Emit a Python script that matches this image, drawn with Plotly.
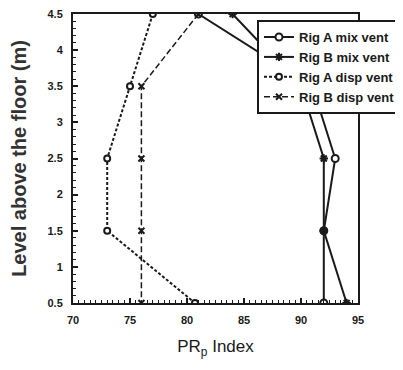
import plotly.graph_objects as go

heights = [4.5, 3.5, 2.5, 1.5, 0.5]
rig_a_mix = [81, 91, 93, 92, 92]
rig_b_mix = [84, 90, 92, 92, 94]
rig_a_disp = [77, 75, 73, 73, 80.7]
rig_b_disp = [81, 76, 76, 76, 76]
names = ["Rig A mix vent", "Rig B mix vent", "Rig A disp vent", "Rig B disp vent"]

ink = "#1a1a1a"
fig = go.Figure()
fig.add_trace(go.Scatter(x=rig_a_mix, y=heights, name=names[0], mode="lines+markers",
                         line=dict(color=ink, width=2),
                         marker=dict(symbol="circle", size=7, color="white", line=dict(color=ink, width=2))))
fig.add_trace(go.Scatter(x=rig_b_mix, y=heights, name=names[1], mode="lines+markers",
                         line=dict(color=ink, width=2),
                         marker=dict(symbol="asterisk-open", size=7, color=ink, line=dict(color=ink, width=2))))
fig.add_trace(go.Scatter(x=rig_a_disp, y=heights, name=names[2], mode="lines+markers",
                         line=dict(color=ink, width=2, dash="3px,2px"),
                         marker=dict(symbol="circle", size=6, color="white", line=dict(color=ink, width=2))))
fig.add_trace(go.Scatter(x=rig_b_disp, y=heights, name=names[3], mode="lines+markers",
                         line=dict(color=ink, width=1.5, dash="6px,3px"),
                         marker=dict(symbol="x-thin-open", size=6, color=ink, line=dict(color=ink, width=2))))

axis_common = dict(showgrid=False, zeroline=False, showline=True, linecolor=ink, linewidth=2,
                   mirror=True, ticks="inside", tickcolor=ink, tickwidth=1.5, ticklen=5,
                   ticklabeloverflow="allow",
                   tickfont=dict(family="Liberation Sans", size=11, color=ink, weight=700))
fig.update_xaxes(range=[70, 95], tick0=70, dtick=5, ticklabelstandoff=6,
                 minor=dict(dtick=0.5, ticks="inside", ticklen=3, tickcolor=ink, tickwidth=1),
                 title=dict(text="PR<sub>p</sub> Index", standoff=15,
                            font=dict(family="Liberation Sans", size=17, color=ink)),
                 **axis_common)
fig.update_yaxes(range=[0.5, 4.5], tick0=0.5, dtick=0.5, ticklabelstandoff=6,
                 minor=dict(dtick=0.1, ticks="inside", ticklen=3, tickcolor=ink, tickwidth=1),
                 title=dict(text="Level above the floor (m)", standoff=20,
                            font=dict(family="Liberation Sans", size=20, color="#333", weight=700)),
                 **axis_common)
fig.update_layout(
    width=395, height=362,
    margin=dict(l=65, r=45, t=6, b=67, autoexpand=False),
    paper_bgcolor="white", plot_bgcolor="white",
    showlegend=True,
    legend=dict(x=0.6456, y=0.979, xanchor="left", yanchor="top",
                bgcolor="white", bordercolor=ink, borderwidth=2, itemwidth=30,
                font=dict(family="Liberation Sans", size=13, color=ink, weight=700),
                tracegroupgap=0),
)
fig.write_html("out.html")
